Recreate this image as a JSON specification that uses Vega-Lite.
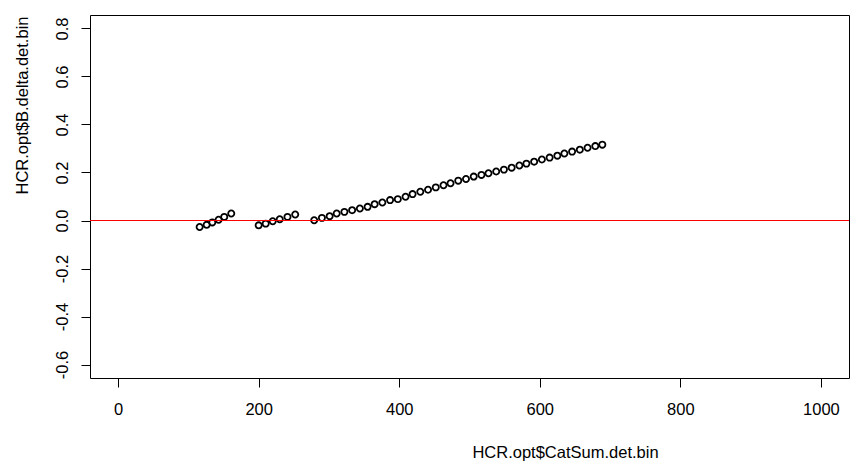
{
  "$schema": "https://vega.github.io/schema/vega-lite/v6.json",
  "width": 759,
  "height": 363,
  "autosize": {"type": "none"},
  "padding": {"left": 90, "top": 15, "right": 14, "bottom": 88},
  "background": "white",
  "config": {
    "view": {"stroke": "black", "strokeWidth": 1},
    "font": "Liberation Sans",
    "axis": {
      "grid": false,
      "domain": false,
      "ticks": true,
      "tickColor": "black",
      "tickWidth": 1,
      "tickSize": 9,
      "labelColor": "black",
      "labelFont": "Liberation Sans",
      "labelFontSize": 16.5,
      "titleFont": "Liberation Sans",
      "titleFontSize": 16.5,
      "titleFontWeight": "normal",
      "titleColor": "black"
    }
  },
  "data": {
    "values": [
      {"catsum_det_bin": 116, "b_delta_det_bin": -0.027},
      {"catsum_det_bin": 126, "b_delta_det_bin": -0.018},
      {"catsum_det_bin": 134, "b_delta_det_bin": -0.008},
      {"catsum_det_bin": 143, "b_delta_det_bin": 0.003},
      {"catsum_det_bin": 151, "b_delta_det_bin": 0.015},
      {"catsum_det_bin": 161, "b_delta_det_bin": 0.029},
      {"catsum_det_bin": 200, "b_delta_det_bin": -0.020},
      {"catsum_det_bin": 210, "b_delta_det_bin": -0.013},
      {"catsum_det_bin": 220, "b_delta_det_bin": -0.003},
      {"catsum_det_bin": 230, "b_delta_det_bin": 0.005},
      {"catsum_det_bin": 241, "b_delta_det_bin": 0.015},
      {"catsum_det_bin": 252, "b_delta_det_bin": 0.025},
      {"catsum_det_bin": 279, "b_delta_det_bin": 0.001},
      {"catsum_det_bin": 290, "b_delta_det_bin": 0.011},
      {"catsum_det_bin": 301, "b_delta_det_bin": 0.018},
      {"catsum_det_bin": 311, "b_delta_det_bin": 0.029},
      {"catsum_det_bin": 322, "b_delta_det_bin": 0.036},
      {"catsum_det_bin": 333, "b_delta_det_bin": 0.043},
      {"catsum_det_bin": 344, "b_delta_det_bin": 0.050},
      {"catsum_det_bin": 355, "b_delta_det_bin": 0.057},
      {"catsum_det_bin": 365, "b_delta_det_bin": 0.068},
      {"catsum_det_bin": 376, "b_delta_det_bin": 0.075},
      {"catsum_det_bin": 387, "b_delta_det_bin": 0.085},
      {"catsum_det_bin": 398, "b_delta_det_bin": 0.089},
      {"catsum_det_bin": 409, "b_delta_det_bin": 0.099},
      {"catsum_det_bin": 419, "b_delta_det_bin": 0.110},
      {"catsum_det_bin": 430, "b_delta_det_bin": 0.120},
      {"catsum_det_bin": 441, "b_delta_det_bin": 0.128},
      {"catsum_det_bin": 452, "b_delta_det_bin": 0.138},
      {"catsum_det_bin": 463, "b_delta_det_bin": 0.147},
      {"catsum_det_bin": 473, "b_delta_det_bin": 0.155},
      {"catsum_det_bin": 484, "b_delta_det_bin": 0.166},
      {"catsum_det_bin": 495, "b_delta_det_bin": 0.173},
      {"catsum_det_bin": 506, "b_delta_det_bin": 0.183},
      {"catsum_det_bin": 517, "b_delta_det_bin": 0.190},
      {"catsum_det_bin": 527, "b_delta_det_bin": 0.197},
      {"catsum_det_bin": 538, "b_delta_det_bin": 0.204},
      {"catsum_det_bin": 549, "b_delta_det_bin": 0.212},
      {"catsum_det_bin": 560, "b_delta_det_bin": 0.220},
      {"catsum_det_bin": 571, "b_delta_det_bin": 0.229},
      {"catsum_det_bin": 581, "b_delta_det_bin": 0.237},
      {"catsum_det_bin": 592, "b_delta_det_bin": 0.245},
      {"catsum_det_bin": 603, "b_delta_det_bin": 0.254},
      {"catsum_det_bin": 614, "b_delta_det_bin": 0.262},
      {"catsum_det_bin": 625, "b_delta_det_bin": 0.270},
      {"catsum_det_bin": 635, "b_delta_det_bin": 0.279},
      {"catsum_det_bin": 646, "b_delta_det_bin": 0.287},
      {"catsum_det_bin": 657, "b_delta_det_bin": 0.295},
      {"catsum_det_bin": 668, "b_delta_det_bin": 0.303},
      {"catsum_det_bin": 679, "b_delta_det_bin": 0.310},
      {"catsum_det_bin": 689, "b_delta_det_bin": 0.316}
    ]
  },
  "layer": [
    {
      "mark": {"type": "point", "shape": "circle", "filled": false, "stroke": "black", "strokeWidth": 1.8, "size": 38, "opacity": 1},
      "encoding": {
        "x": {
          "field": "catsum_det_bin",
          "type": "quantitative",
          "scale": {"domain": [-40, 1040], "nice": false, "zero": false},
          "axis": {
            "values": [0, 200, 400, 600, 800, 1000],
            "format": "d",
            "labelPadding": 14,
            "title": "HCR.opt$CatSum.det.bin",
            "titleX": 475,
            "titleY": 74,
            "titleAlign": "center",
            "titleBaseline": "middle"
          }
        },
        "y": {
          "field": "b_delta_det_bin",
          "type": "quantitative",
          "scale": {"domain": [-0.656, 0.856], "nice": false, "zero": false},
          "axis": {
            "values": [-0.6, -0.4, -0.2, 0, 0.2, 0.4, 0.6, 0.8],
            "labelExpr": "replace(format(datum.value, '.1f'), '\u2212', '-')",
            "labelAngle": 270,
            "labelAlign": "center",
            "labelBaseline": "middle",
            "labelPadding": 19,
            "title": "HCR.opt$B.delta.det.bin",
            "titleAngle": 270,
            "titleX": -68,
            "titleY": 90,
            "titleAlign": "center",
            "titleBaseline": "middle"
          }
        }
      }
    },
    {
      "mark": {"type": "rule", "color": "#ff0000", "strokeWidth": 1.1},
      "encoding": {"y": {"datum": 0}}
    }
  ]
}
